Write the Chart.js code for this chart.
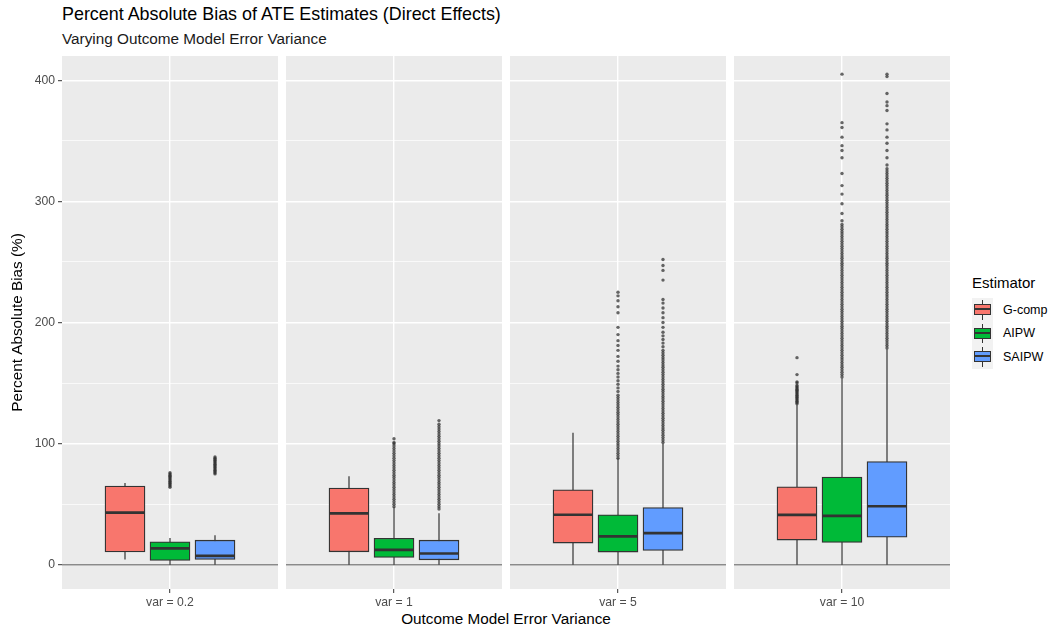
<!DOCTYPE html>
<html>
<head>
<meta charset="utf-8">
<script src="https://cdn.jsdelivr.net/npm/chart.js@4.4.1/dist/chart.umd.min.js"></script>
<style>
  body { margin: 0; width: 1052px; height: 630px; background: #fff; position: relative; overflow: hidden;
         font-family: "Liberation Sans", Arial, sans-serif; }
  .abs { position: absolute; white-space: nowrap; }
  #title { left: 62px; top: 4px; font-size: 17.9px; color: #000; }
  #subtitle { left: 62px; top: 30px; font-size: 15.3px; color: #1a1a1a; }
  #xtitle { left: 62px; width: 888px; top: 610px; text-align: center; font-size: 15.3px; color: #000; }
  #legend { left: 972px; top: 274px; }
  #legend .lt { font-size: 15px; color: #000; height: 24px; }
  .row { height: 23.5px; display: flex; align-items: center; }
  .key { position: relative; width: 21px; height: 23.5px; background: #f2f2f2; }
  .key .wh { position: absolute; left: 10px; top: 2px; width: 1px; height: 19.5px; background: #333; }
  .key .bx { position: absolute; left: 2px; top: 6px; width: 15px; height: 9px; border: 1px solid #333; }
  .key .md { position: absolute; left: 2px; top: 10px; width: 17px; height: 2px; background: #333; }
  .row span { margin-left: 10px; font-size: 12.5px; color: #000; }
</style>
</head>
<body>
<div id="title" class="abs">Percent Absolute Bias of ATE Estimates (Direct Effects)</div>
<div id="subtitle" class="abs">Varying Outcome Model Error Variance</div>
<div id="xtitle" class="abs">Outcome Model Error Variance</div>
<div id="legend" class="abs"><div class="lt">Estimator</div></div>
<script>
const panels = ['var = 0.2', 'var = 1', 'var = 5', 'var = 10'];
const estimators = ['G-comp', 'AIPW', 'SAIPW'];
const colors = ['#F8766D', '#00BA38', '#619CFF'];
const dodge = [0.75, 1, 1.25];

// box stats, one row per estimator, one value per panel
const whiskerLow  = [[4.4, 0, 0, 0], [0, 0, 0, 0], [0, 0, 0, 0]];
const q1          = [[10.6, 10.7, 17.9, 20.4], [3.5, 6, 10.5, 18.5], [4.4, 4.1, 11.8, 22.7]];
const median      = [[43, 42.5, 41.3, 41.2], [13.5, 12.3, 23.4, 40.3], [7.4, 9.3, 26.1, 48.3]];
const q3          = [[65, 63.3, 61.9, 64.4], [19, 21.9, 41.3, 72.4], [20.3, 20.3, 47.3, 85.2]];
const whiskerHigh = [[67.6, 73, 109, 132], [22, 47.4, 88, 154], [24.4, 42.5, 100, 178]];

// outliers, one list per panel
const gcompOut = [
  [],
  [],
  [],
  [133, 134, 135, 136, 137, 138, 139, 140, 141, 142, 143, 144, 145, 146, 147, 148, 150, 151, 157, 171]
];
const aipwOut = [
  [64, 65, 66, 67, 68, 69, 70, 71, 72, 73, 74, 75, 76],
  [48, 50, 52, 54, 56, 58, 60, 62, 64, 66, 68, 70, 72, 74, 76, 78, 80, 82, 84, 86, 88, 90, 92, 94, 96, 98,
   100, 101, 104],
  [88, 90, 92, 94, 96, 98, 100, 102, 104, 106, 108, 110, 112, 114, 116, 118, 120, 122, 124, 126, 128, 130,
   132, 134, 136, 138, 140, 143, 146, 149, 152, 155, 158, 161, 164, 168, 172, 177, 181, 185, 190, 196,
   208, 213, 218, 222, 225],
  [155, 157, 159, 161, 163, 165, 167, 169, 171, 173, 175, 177, 179, 181, 183, 185, 187, 189, 191, 193, 195,
   197, 199, 201, 203, 205, 207, 209, 211, 213, 215, 217, 219, 221, 223, 225, 227, 229, 231, 233, 235,
   237, 239, 241, 243, 245, 247, 249, 251, 253, 255, 257, 259, 261, 263, 265, 267, 269, 271, 273, 275,
   277, 279, 281, 284, 290, 298, 306, 313, 323, 336, 342, 346, 353, 361, 365, 405]
];
const saipwOut = [
  [75, 76, 77, 78, 79, 80, 81, 82, 83, 84, 85, 86, 87, 88, 89],
  [46, 48, 50, 52, 54, 56, 58, 60, 62, 64, 66, 68, 70, 72, 74, 76, 78, 80, 82, 84, 86, 88, 90, 92, 94, 96,
   98, 100, 102, 104, 106, 108, 110, 112, 114, 116, 119],
  [101, 103, 105, 107, 109, 111, 113, 115, 117, 119, 121, 123, 125, 127, 129, 131, 133, 135, 137, 139,
   141, 143, 145, 147, 149, 151, 153, 155, 157, 159, 161, 163, 165, 167, 169, 171, 173, 175, 177, 180,
   183, 186, 189, 192, 196, 200, 204, 208, 212, 216, 219, 235, 243, 247, 252],
  [179, 181, 183, 185, 187, 189, 191, 193, 195, 197, 199, 201, 203, 205, 207, 209, 211, 213, 215, 217,
   219, 221, 223, 225, 227, 229, 231, 233, 235, 237, 239, 241, 243, 245, 247, 249, 251, 253, 255, 257,
   259, 261, 263, 265, 267, 269, 271, 273, 275, 277, 279, 281, 283, 285, 287, 289, 291, 293, 295, 297,
   299, 301, 303, 305, 307, 309, 311, 313, 315, 317, 319, 321, 323, 325, 327, 330, 336, 342, 348, 353,
   359, 364, 375, 379, 382, 389, 403, 405]
];
const yTicks = [0, 100, 200, 300, 400];

Chart.defaults.font.family = '"Liberation Sans", Arial, sans-serif';

const boxParts = {
  id: 'boxParts',
  beforeDraw(chart) {
    const { ctx, chartArea: a } = chart;
    ctx.save();
    ctx.fillStyle = '#EBEBEB';
    ctx.fillRect(a.left, a.top, a.right - a.left, a.bottom - a.top);
    ctx.restore();
  },
  beforeDatasetsDraw(chart, args, opts) {
    const { ctx, chartArea: a, scales: { x, y } } = chart;
    ctx.save();
    // zero reference line
    ctx.strokeStyle = '#8a8a8a';
    ctx.lineWidth = 1.3;
    ctx.beginPath();
    ctx.moveTo(a.left, y.getPixelForValue(0));
    ctx.lineTo(a.right, y.getPixelForValue(0));
    ctx.stroke();
    // whiskers
    ctx.strokeStyle = '#333333';
    ctx.lineWidth = 1.2;
    opts.low.forEach((lo, i) => {
      const px = x.getPixelForValue(dodge[i]);
      ctx.beginPath();
      ctx.moveTo(px, y.getPixelForValue(lo));
      ctx.lineTo(px, y.getPixelForValue(opts.high[i]));
      ctx.stroke();
    });
    ctx.restore();
  },
  afterDatasetsDraw(chart, args, opts) {
    const { ctx, scales: { y } } = chart;
    const meta = chart.getDatasetMeta(0);
    ctx.save();
    ctx.strokeStyle = '#333333';
    ctx.lineWidth = 2.7;
    meta.data.forEach((bar, i) => {
      const py = y.getPixelForValue(opts.med[i]);
      ctx.beginPath();
      ctx.moveTo(bar.x - bar.width / 2, py);
      ctx.lineTo(bar.x + bar.width / 2, py);
      ctx.stroke();
    });
    ctx.restore();
  }
};

const outlierSets = [gcompOut, aipwOut, saipwOut];
const pad = 6;

panels.forEach((label, p) => {
  const first = p === 0;
  const panelLeft = 62 + p * 224;
  const left = first ? 0 : panelLeft - pad;
  const w = first ? 62 + 216 + pad : 216 + 2 * pad;
  const cv = document.createElement('canvas');
  cv.width = w;
  cv.height = 533 + 24 + pad;
  cv.style.cssText = `position:absolute;left:${left}px;top:${56 - pad}px;width:${w}px;height:${cv.height}px`;
  document.body.appendChild(cv);

  const boxes = estimators.map((e, i) => ({ x: dodge[i], y: [q1[i][p], q3[i][p]] }));
  const outs = [];
  outlierSets.forEach((set, i) => set[p].forEach(v => outs.push({ x: dodge[i], y: v })));

  new Chart(cv, {
    type: 'bar',
    data: {
      datasets: [
        {
          type: 'bar', data: boxes, backgroundColor: colors, borderColor: '#333333',
          borderWidth: 1.3, borderSkipped: false, barThickness: 40, grouped: false, order: 1
        },
        {
          type: 'scatter', data: outs, pointRadius: 1.7, pointBorderWidth: 0,
          pointBackgroundColor: 'rgba(45,45,45,0.72)', order: 2
        }
      ]
    },
    options: {
      responsive: false,
      animation: false,
      events: [],
      layout: { padding: { left: first ? 0 : pad, right: pad, top: pad, bottom: 0 } },
      plugins: {
        legend: { display: false },
        tooltip: { enabled: false },
        boxParts: {
          low: whiskerLow.map(r => r[p]),
          high: whiskerHigh.map(r => r[p]),
          med: median.map(r => r[p])
        }
      },
      scales: {
        x: {
          type: 'linear', min: 0.4, max: 1.6, offset: false,
          afterFit: s => { s.height = 24; s.paddingLeft = 0; s.paddingRight = 0; },
          ticks: {
            stepSize: 1, includeBounds: false, callback: () => label, color: '#4D4D4D',
            font: { size: 12.2 }, padding: 2, maxRotation: 0, autoSkip: false
          },
          grid: {
            offset: false,
            color: c => (c.tick && c.tick.value === 1 ? '#ffffff' : 'rgba(0,0,0,0)'),
            lineWidth: 1.4,
            tickColor: c => (c.tick && c.tick.value === 1 ? '#333333' : 'rgba(0,0,0,0)'),
            tickLength: 4, tickWidth: 1
          },
          border: { display: false }
        },
        y: {
          min: -20, max: 420,
          afterFit: s => { s.width = first ? 62 : 0; s.paddingTop = 0; s.paddingBottom = 0; },
          ticks: {
            display: first, stepSize: 50, includeBounds: false, color: '#4D4D4D', font: { size: 12.2 }, padding: 3,
            callback: v => (yTicks.includes(v) ? v : '')
          },
          grid: {
            color: '#ffffff',
            lineWidth: c => (c.tick && yTicks.includes(c.tick.value) ? 1.4 : 0.7),
            drawTicks: first,
            tickColor: c => (c.tick && yTicks.includes(c.tick.value) ? '#333333' : 'rgba(0,0,0,0)'),
            tickLength: 4, tickWidth: 1
          },
          border: { display: false },
          title: { display: first, text: 'Percent Absolute Bias (%)', color: '#000', font: { size: 15.3 }, padding: { top: 9, bottom: 0 } }
        }
      }
    },
    plugins: [boxParts]
  });
});

// legend
const legend = document.getElementById('legend');
estimators.forEach((name, i) => {
  const row = document.createElement('div');
  row.className = 'row';
  row.innerHTML = `<div class="key"><div class="wh"></div><div class="bx" style="background:${colors[i]}"></div><div class="md"></div></div><span>${name}</span>`;
  legend.appendChild(row);
});
</script>
</body>
</html>
